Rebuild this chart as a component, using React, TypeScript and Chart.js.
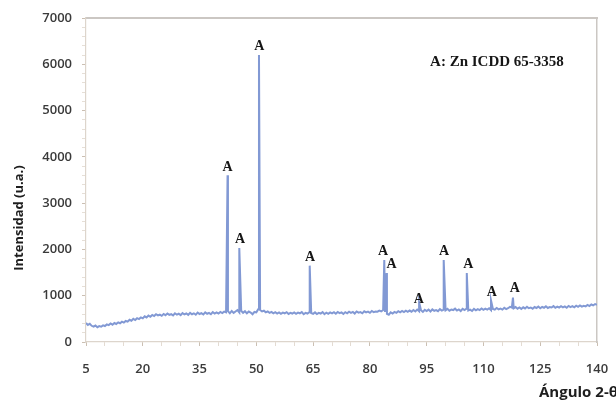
import { useEffect, useRef } from "react";
import { Chart, registerables } from "chart.js";

Chart.register(...registerables);

// ---- data ----
const baselineStart = 5;
const baselineStep = 0.5;
const baselineIntensity = [
  410, 370, 395, 350, 330, 355, 320, 345, 330, 360,
  345, 380, 365, 400, 375, 410, 390, 425, 405, 440,
  420, 455, 440, 480, 460, 500, 475, 515, 495, 530,
  510, 555, 530, 570, 545, 585, 560, 600, 575, 590,
  565, 605, 580, 615, 585, 600, 575, 620, 590, 610,
  580, 625, 595, 615, 585, 630, 600, 620, 590, 635,
  605, 625, 595, 640, 610, 630, 600, 645, 615, 640,
  615, 650, 625, 655, 640, 665, 620, 670, 630, 660,
  690, 640, 675, 630, 665, 620, 660, 635, 600, 650,
  640, 710, 690, 660, 675, 640, 660, 630, 650, 620,
  645, 615, 640, 610, 635, 620, 645, 605, 630, 615,
  640, 610, 635, 620, 645, 600, 630, 615, 645, 625,
  610, 640, 605, 630, 615, 645, 600, 635, 610, 640,
  620, 645, 610, 650, 625, 640, 605, 645, 620, 655,
  630, 650, 615, 660, 635, 645, 620, 665, 640, 655,
  630, 670, 645, 660, 655, 680, 660, 690, 650, 610,
  590, 640, 615, 650, 630, 665, 640, 670, 645, 675,
  650, 680, 655, 690, 660, 700, 665, 685, 650, 695,
  670, 700, 660, 705, 675, 690, 665, 710, 680, 700,
  685, 715, 675, 700, 690, 720, 680, 705, 670, 715,
  690, 720, 680, 700, 670, 715, 685, 710, 690, 725,
  695, 720, 700, 730, 690, 715, 700, 735, 705, 720,
  700, 740, 710, 730, 760, 745, 730, 755, 720, 745,
  715, 750, 725, 760, 730, 745, 720, 755, 735, 765,
  730, 760, 740, 770, 735, 755, 745, 775, 740, 765,
  745, 775, 750, 770, 740, 780, 755, 775, 750, 785,
  760, 790, 765, 780, 770, 800, 775, 810, 790, 820,
  805,
];

const peakAngles = [42.4, 45.5, 50.7, 64.1, 83.8, 84.4, 93.0, 99.5, 105.6, 112.0, 117.8];
const peakIntensity = [3600, 2030, 6200, 1650, 1770, 1490, 860, 1770, 1490, 900, 960];
const labelAngles = [42.4, 45.7, 50.8, 64.2, 83.5, 85.7, 92.9, 99.6, 106.0, 112.2, 118.3];
const labelIntensity = [3640, 2070, 6240, 1690, 1810, 1530, 780, 1810, 1530, 930, 1010];
const peakLabel = "A";

const xMin = 5;
const xMax = 140;
const xLabelStep = 15;
const xMinorStep = 5;
const yMin = 0;
const yMax = 7000;
const yLabelStep = 1000;
const yMinorStep = 200;

const legendText = "A: Zn ICDD 65-3358";
const legendAngle = 95.9;
const legendIntensity = 6050;
const xTitle = "Ángulo 2-θ";
const yTitle = "Intensidad (u.a.)";

export default function App() {
  const ref = useRef<HTMLCanvasElement>(null);

  useEffect(() => {
    const points: { x: number; y: number }[] = [];
    baselineIntensity.forEach((v, i) => points.push({ x: baselineStart + i * baselineStep, y: v }));
    peakAngles.forEach((a, i) => points.push({ x: a, y: peakIntensity[i] }));
    points.sort((a, b) => a.x - b.x);

    const annotations = {
      id: "annotations",
      afterDraw(chart: any) {
        const { ctx, scales } = chart;
        const xs = scales.x;
        const ys = scales.y;
        ctx.save();
        ctx.fillStyle = "#161616";
        ctx.font = 'bold 14px "Liberation Serif"';
        ctx.textAlign = "center";
        ctx.textBaseline = "alphabetic";
        labelAngles.forEach((a, i) => {
          ctx.fillText(peakLabel, xs.getPixelForValue(a), ys.getPixelForValue(labelIntensity[i]) - 3);
        });
        ctx.font = 'bold 15px "Liberation Serif"';
        ctx.textAlign = "left";
        ctx.textBaseline = "middle";
        ctx.fillText(legendText, xs.getPixelForValue(legendAngle), ys.getPixelForValue(legendIntensity));

        ctx.fillStyle = "#1e1e1e";
        ctx.font = 'bold 15px "Open Sans"';
        ctx.textAlign = "left";
        ctx.textBaseline = "alphabetic";
        ctx.fillText(xTitle, 539, 397);

        ctx.font = 'bold 13px "Open Sans"';
        ctx.translate(19, 218);
        ctx.rotate(-Math.PI / 2);
        ctx.textAlign = "center";
        ctx.textBaseline = "middle";
        ctx.fillText(yTitle, 0, 0);
        ctx.restore();
      },
    };

    const tickFont = { family: '"Open Sans"', size: 13, weight: 600 as any };

    const chart = new Chart(ref.current as HTMLCanvasElement, {
      type: "line",
      data: {
        datasets: [
          {
            data: points,
            borderColor: "rgb(130,153,212)",
            borderWidth: 2,
            pointRadius: 0,
            tension: 0,
            fill: false,
          },
        ],
      },
      options: {
        animation: false,
        responsive: false,
        events: [],
        layout: { padding: { top: 18, right: 19, left: 0, bottom: 0 } },
        plugins: { legend: { display: false }, tooltip: { enabled: false } },
        scales: {
          x: {
            type: "linear",
            position: "bottom",
            min: xMin,
            max: xMax,
            afterFit: (s: any) => {
              s.height = 61;
              s.paddingRight = 0;
              s.paddingLeft = 0;
            },
            ticks: {
              stepSize: xMinorStep,
              autoSkip: false,
              maxRotation: 0,
              maxTicksLimit: 100,
              padding: 15,
              color: "#3a3a3a",
              font: tickFont,
              callback: (v: any) => ((Number(v) - xMin) % xLabelStep === 0 ? String(v) : ""),
            },
            grid: {
              drawOnChartArea: false,
              drawTicks: true,
              tickLength: 4,
              tickColor: (c: any) =>
                c.tick && (c.tick.value - xMin) % xLabelStep === 0 ? "#cbbfb2" : "#e3dbd2",
            },
            border: { color: "#ddd5cc", width: 1.2 },
          },
          x2: {
            type: "linear",
            position: "top",
            min: xMin,
            max: xMax,
            afterFit: (s: any) => {
              s.height = 0;
            },
            ticks: { display: false },
            grid: { drawOnChartArea: false, drawTicks: false },
            border: { color: "#cbc7c3", width: 2 },
          },
          y: {
            type: "linear",
            position: "left",
            min: yMin,
            max: yMax,
            afterFit: (s: any) => {
              s.width = 86;
            },
            ticks: {
              stepSize: yMinorStep,
              autoSkip: false,
              maxTicksLimit: 100,
              padding: 10,
              color: "#3a3a3a",
              font: tickFont,
              callback: (v: any) => (Number(v) % yLabelStep === 0 ? String(v) : ""),
            },
            grid: {
              drawOnChartArea: false,
              drawTicks: true,
              tickLength: 4,
              tickColor: (c: any) =>
                c.tick && c.tick.value % yLabelStep === 0 ? "#cbbfb2" : "#e6dfd7",
            },
            border: { color: "#ddd5cc", width: 1.2 },
          },
          y2: {
            type: "linear",
            position: "right",
            min: yMin,
            max: yMax,
            afterFit: (s: any) => {
              s.width = 0;
            },
            ticks: { display: false },
            grid: { drawOnChartArea: false, drawTicks: false },
            border: { color: "#cbc7c3", width: 1.5 },
          },
        },
      },
      plugins: [annotations],
    });

    return () => chart.destroy();
  }, []);

  return (
    <div
      style={{
        position: "fixed",
        left: 0,
        top: 0,
        width: 616,
        height: 403,
        background: "#ffffff",
        overflow: "hidden",
      }}
    >
      <canvas ref={ref} width={616} height={403} style={{ display: "block" }} />
    </div>
  );
}
